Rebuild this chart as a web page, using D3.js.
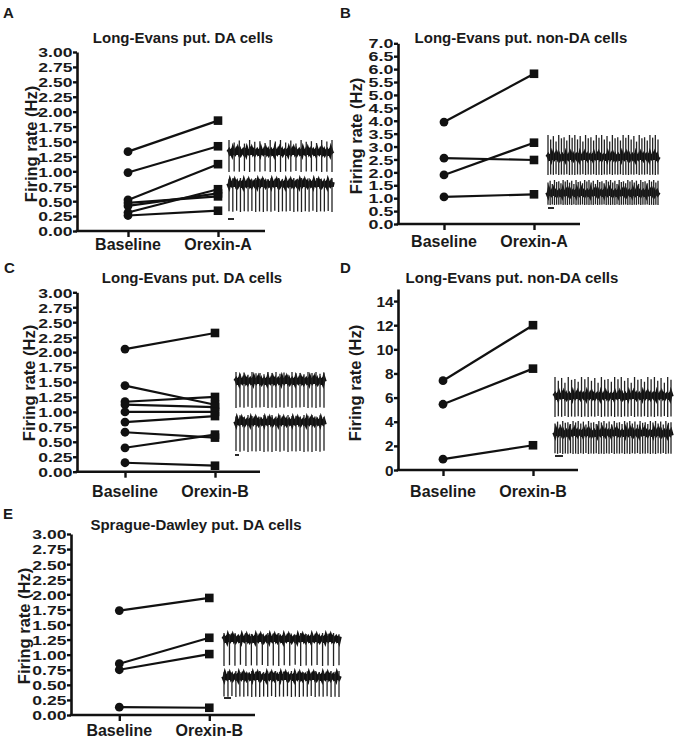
<!DOCTYPE html>
<html><head><meta charset="utf-8">
<script src="https://cdn.jsdelivr.net/npm/d3@7"></script>
<style>
body{margin:0;background:#fff;}
svg text{font-family:"Liberation Sans",Arial,Helvetica,sans-serif;font-weight:bold;fill:#1a1a1a;}
</style></head>
<body><svg id="c" width="676" height="738"></svg>
<script>
// ---- data ----
const categoriesA = ["Baseline", "Orexin-A"];
const categoriesB = ["Baseline", "Orexin-B"];
const titles = ["Long-Evans put. DA cells", "Long-Evans put. non-DA cells", "Long-Evans put. DA cells", "Long-Evans put. non-DA cells", "Sprague-Dawley put. DA cells"];
const panelLetters = ["A", "B", "C", "D", "E"];
const yLabel = "Firing rate (Hz)";

const panelA_baseline = [1.33, 0.98, 0.52, 0.47, 0.42, 0.31, 0.26];
const panelA_orexin   = [1.85, 1.42, 1.12, 0.58, 0.63, 0.70, 0.34];
const panelB_baseline = [3.95, 2.55, 1.90, 1.05];
const panelB_orexin   = [5.82, 2.48, 3.15, 1.15];
const panelC_baseline = [2.05, 1.44, 1.17, 1.12, 1.00, 0.83, 0.66, 0.40, 0.15];
const panelC_orexin   = [2.32, 1.12, 1.25, 1.08, 1.00, 0.93, 0.57, 0.62, 0.10];
const panelD_baseline = [7.4, 5.45, 0.9];
const panelD_orexin   = [12.0, 8.4, 2.05];
const panelE_baseline = [1.73, 0.85, 0.75, 0.13];
const panelE_orexin   = [1.94, 1.28, 1.01, 0.12];

const ticksDA = [0, 0.25, 0.5, 0.75, 1.0, 1.25, 1.5, 1.75, 2.0, 2.25, 2.5, 2.75, 3.0];
const ticksB  = [0, 0.5, 1, 1.5, 2, 2.5, 3, 3.5, 4, 4.5, 5, 5.5, 6, 6.5, 7];
const ticksD  = [0, 2, 4, 6, 8, 10, 12, 14];

// ---- layout (positions only) ----
const panels = [
  {base: panelA_baseline, orex: panelA_orexin, cats: categoriesA, ticks: ticksDA, dom: [0, 3], fmt: ".2f", tf: 13.5, sx: 1.3,
   ax: 77, y0: 231, y1: 52, xEnd: 265, c0: 128, c1: 218, title: [183, 43], letter: [3, 18], ylab: [37, 144], catY: 250,
   traces: {x0: 228, x1: 333, t: [{cy: 152, up: 12, dn: 20, n: 21}, {cy: 184, up: 6, dn: 28, n: 28}], bar: [228, 234, 219]}},
  {base: panelB_baseline, orex: panelB_orexin, cats: categoriesA, ticks: ticksB, dom: [0, 7], fmt: ".1f", tf: 13, sx: 1.38,
   ax: 398, y0: 224, y1: 43.3, xEnd: 580, c0: 444, c1: 534, title: [521, 43], letter: [340, 18], ylab: [362, 136], catY: 247,
   traces: {x0: 547, x1: 659, t: [{cy: 157, up: 22, dn: 18, n: 42}, {cy: 193, up: 13, dn: 12, n: 52}], bar: [548, 554, 208]}},
  {base: panelC_baseline, orex: panelC_orexin, cats: categoriesB, ticks: ticksDA, dom: [0, 3], fmt: ".2f", tf: 13.5, sx: 1.3,
   ax: 77, y0: 471.7, y1: 292.3, xEnd: 260, c0: 125, c1: 215, title: [192, 283], letter: [4, 273], ylab: [35, 383], catY: 497,
   traces: {x0: 235, x1: 325, t: [{cy: 381, up: 9, dn: 27, n: 23}, {cy: 422, up: 7, dn: 30, n: 23}], bar: [235, 239, 455]}},
  {base: panelD_baseline, orex: panelD_orexin, cats: categoriesB, ticks: ticksD, dom: [0, 15], fmt: "d", tf: 14, sx: 1.1,
   ax: 398, y0: 470, y1: 289, xEnd: 578, c0: 443, c1: 533, title: [512, 283], letter: [340, 273], ylab: [361, 383], catY: 497,
   traces: {x0: 554, x1: 672, t: [{cy: 396, up: 19, dn: 21, n: 36}, {cy: 433, up: 12, dn: 21, n: 46}], bar: [555, 563, 456]}},
  {base: panelE_baseline, orex: panelE_orexin, cats: categoriesB, ticks: ticksDA, dom: [0, 3], fmt: ".2f", tf: 13.5, sx: 1.3,
   ax: 71, y0: 715, y1: 534, xEnd: 255, c0: 119.3, c1: 209.3, title: [196, 530], letter: [3, 519], ylab: [30, 626], catY: 736,
   traces: {x0: 223, x1: 340, t: [{cy: 639, up: 6, dn: 27, n: 22}, {cy: 677, up: 6, dn: 20, n: 30}], bar: [224, 231, 698]}}
];

const svg = d3.select("#c");
const jitter = [0, -1.5, 1, -0.5, 2, -2.5, 0.5, 1.5, -1, 2.5, -2, 0.8, -1.2, 1.8];
const spikeVar = [1, 0.8, 0.95, 0.7, 1, 0.85, 0.9, 0.75, 1, 0.88];

panels.forEach((p, i) => {
  const g = svg.append("g");
  const y = d3.scaleLinear().domain(p.dom).range([p.y0, p.y1]);
  const x = d3.scalePoint().domain(p.cats).range([p.c0, p.c1]);

  // y axis
  const yAxis = d3.axisLeft(y).tickValues(p.ticks).tickFormat(d3.format(p.fmt)).tickSize(4).tickSizeOuter(0).tickPadding(0);
  const ya = g.append("g").attr("transform", `translate(${p.ax},0)`).call(yAxis);
  ya.select(".domain").attr("stroke", "#111").attr("stroke-width", 2.6);
  ya.selectAll(".tick line").attr("stroke", "#111").attr("stroke-width", 2.4);
  ya.selectAll(".tick text").attr("x", 0).attr("dy", "0.36em")
    .attr("transform", `translate(-4.5,0) scale(${p.sx},1)`)
    .style("font-size", p.tf + "px").attr("fill", "#1a1a1a");

  // x axis
  const xAxis = d3.axisBottom(x).tickSize(6).tickSizeOuter(0).tickPadding(4);
  const xa = g.append("g").attr("transform", `translate(0,${p.y0})`).call(xAxis);
  xa.select(".domain").remove();
  xa.append("line").attr("x1", p.ax - 1.3).attr("x2", p.xEnd).attr("y1", 0).attr("y2", 0)
    .attr("stroke", "#111").attr("stroke-width", 2.6);
  xa.selectAll(".tick line").attr("stroke", "#111").attr("stroke-width", 2.4);
  xa.selectAll(".tick text").remove();
  p.cats.forEach(c => {
    g.append("text").attr("x", x(c)).attr("y", p.catY).attr("text-anchor", "middle")
      .style("font-size", "16px").text(c);
  });

  // title, letter, y label
  g.append("text").attr("x", p.title[0]).attr("y", p.title[1]).attr("text-anchor", "middle")
    .style("font-size", "15px").text(titles[i]);
  g.append("text").attr("x", p.letter[0]).attr("y", p.letter[1]).style("font-size", "15px").text(panelLetters[i]);
  g.append("text").attr("transform", `translate(${p.ylab[0]},${p.ylab[1]}) rotate(-90)`)
    .attr("text-anchor", "middle").style("font-size", "16.5px").text(yLabel);

  // paired lines
  const pairs = p.base.map((b, k) => ({b, o: p.orex[k]}));
  g.selectAll(".pair").data(pairs).enter().append("line")
    .attr("x1", x(p.cats[0])).attr("x2", x(p.cats[1]))
    .attr("y1", d => y(d.b)).attr("y2", d => y(d.o))
    .attr("stroke", "#111").attr("stroke-width", 2.2);
  g.selectAll(".circ").data(p.base).enter().append("circle")
    .attr("cx", x(p.cats[0])).attr("cy", d => y(d)).attr("r", 4.4).attr("fill", "#111");
  g.selectAll(".sq").data(p.orex).enter().append("rect")
    .attr("x", x(p.cats[1]) - 4.3).attr("y", d => y(d) - 4.3).attr("width", 8.6).attr("height", 8.6).attr("fill", "#111");

  // example recording traces (illustrative inset)
  const tr = p.traces;
  tr.t.forEach((t, ti) => {
    let pts = [];
    for (let xx = tr.x0, k = 0; xx <= tr.x1; xx += 1, k++) pts.push([xx, t.cy + jitter[(k + ti * 3) % jitter.length]]);
    g.append("path").attr("d", d3.line()(pts)).attr("fill", "none").attr("stroke", "#111").attr("stroke-width", 3.6);
    const step = (tr.x1 - tr.x0 - 2) / (t.n - 1);
    for (let s = 0; s < t.n; s++) {
      const sx = tr.x0 + 1 + s * step;
      const v = spikeVar[(s + ti) % spikeVar.length];
      g.append("line").attr("x1", sx).attr("x2", sx)
        .attr("y1", t.cy - t.up * v).attr("y2", t.cy + t.dn * (0.85 + 0.15 * v))
        .attr("stroke", "#222").attr("stroke-width", 1.3);
    }
  });
  g.append("line").attr("x1", tr.bar[0]).attr("x2", tr.bar[1]).attr("y1", tr.bar[2]).attr("y2", tr.bar[2])
    .attr("stroke", "#111").attr("stroke-width", 1.8);
});
</script></body></html>
